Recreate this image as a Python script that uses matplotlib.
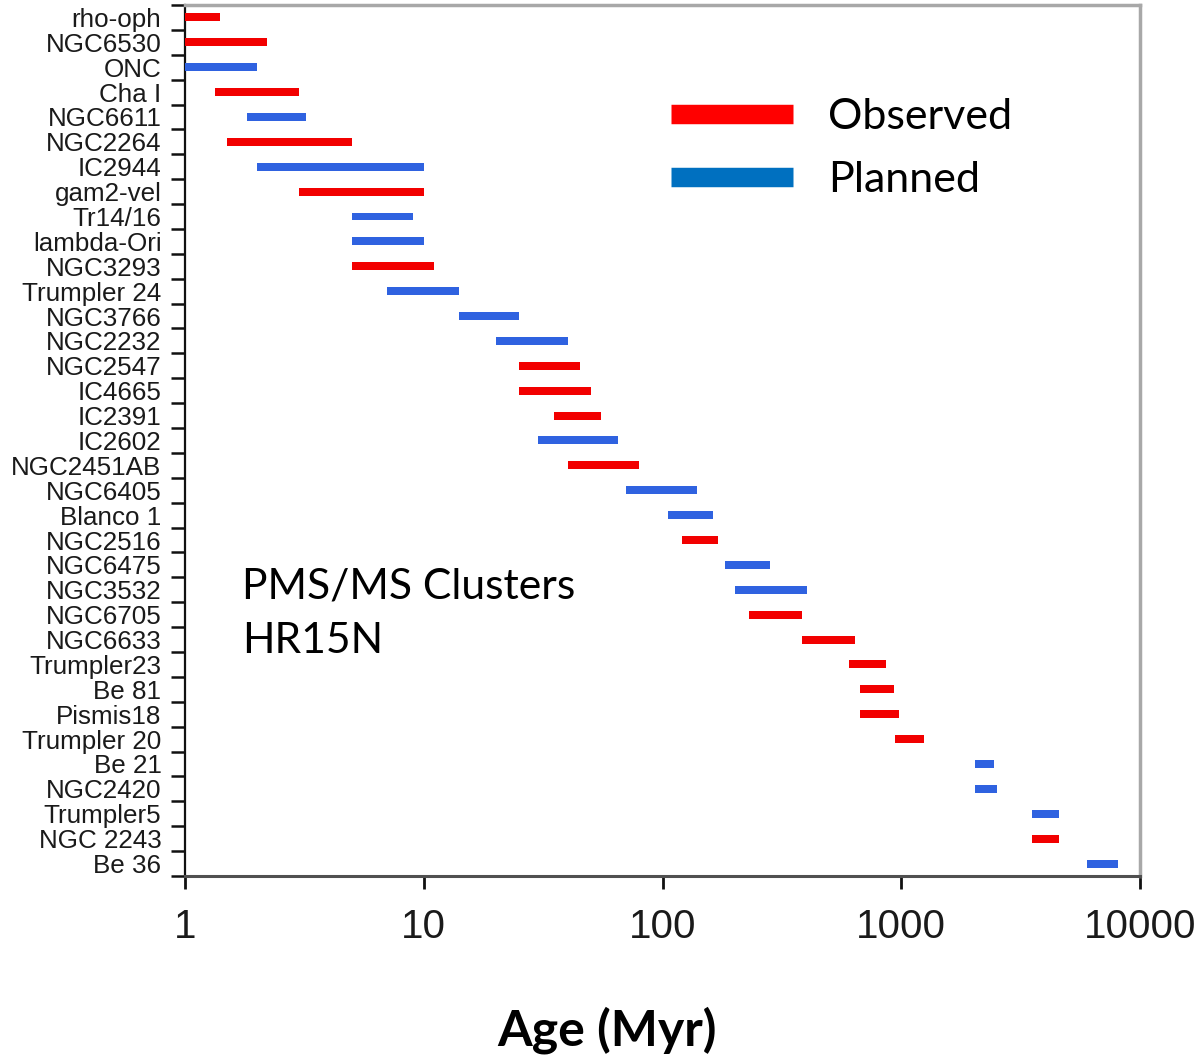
import matplotlib
matplotlib.use("Agg")
import matplotlib.pyplot as plt
from matplotlib.lines import Line2D

clusters = ["rho-oph", "NGC6530", "ONC", "Cha I", "NGC6611", "NGC2264", "IC2944",
            "gam2-vel", "Tr14/16", "lambda-Ori", "NGC3293", "Trumpler 24", "NGC3766",
            "NGC2232", "NGC2547", "IC4665", "IC2391", "IC2602", "NGC2451AB", "NGC6405",
            "Blanco 1", "NGC2516", "NGC6475", "NGC3532", "NGC6705", "NGC6633",
            "Trumpler23", "Be 81", "Pismis18", "Trumpler 20", "Be 21", "NGC2420",
            "Trumpler5", "NGC 2243", "Be 36"]
age_min = [1.0, 1.0, 1.0, 1.34, 1.82, 1.5, 2.0, 3.0, 5.0, 5.0, 5.0, 7.0, 14.0,
           20.0, 25.0, 25.0, 35.0, 30.0, 40.0, 70.0, 105.0, 121.0, 182.0, 202.0,
           231.0, 385.0, 606.0, 674.0, 674.0, 944.0, 2040.0, 2040.0, 3530.0, 3530.0, 6000.0]
age_max = [1.40, 2.2, 2.0, 3.0, 3.2, 5.0, 10.0, 10.0, 9.0, 10.0, 11.0, 14.0, 25.0,
           40.0, 45.0, 50.0, 55.0, 65.0, 80.0, 140.0, 163.0, 171.0, 283.0, 404.0,
           385.0, 642.0, 865.0, 935.0, 982.0, 1248.0, 2450.0, 2520.0, 4580.0, 4580.0, 8090.0]
status = ["Observed", "Observed", "Planned", "Observed", "Planned", "Observed", "Planned",
          "Observed", "Planned", "Planned", "Observed", "Planned", "Planned",
          "Planned", "Observed", "Observed", "Observed", "Planned", "Observed", "Planned",
          "Planned", "Observed", "Planned", "Planned", "Observed", "Observed",
          "Observed", "Observed", "Observed", "Observed", "Planned", "Planned",
          "Planned", "Observed", "Planned"]
xticks = [1, 10, 100, 1000, 10000]
xticklabels = ["1", "10", "100", "1000", "10000"]

bar_colors = {"Observed": "#F20000", "Planned": "#2F62E0"}
legend_colors = {"Observed": "#FF0000", "Planned": "#0070C0"}

fig = plt.figure(figsize=(12, 10.55), dpi=100)
ax = fig.add_axes([0.1542, 0.1697, 0.7958, 0.8256])

ypos = list(range(len(clusters)))
widths = [b - a for a, b in zip(age_min, age_max)]
ax.barh(ypos, widths, left=age_min, height=0.32,
        color=[bar_colors[s] for s in status], edgecolor="none", zorder=3)

ax.set_xscale("log")
ax.set_xlim(1, 10000)
ax.set_ylim(len(clusters) - 0.5, -0.5)
ax.set_xticks(xticks)
ax.set_xticklabels(xticklabels, fontsize=29, family="Liberation Sans", color="#1a1a1a")
ax.xaxis.set_minor_locator(matplotlib.ticker.NullLocator())
ax.tick_params(axis="x", direction="out", length=9, width=2, pad=14, color="#111111")

ax.set_yticks(ypos)
ax.set_yticklabels(clusters, fontsize=18.7, family="Liberation Sans", color="#1a1a1a")
ax.set_yticks([y + 0.5 for y in range(-1, len(clusters))], minor=True)
ax.tick_params(axis="y", which="major", length=0, pad=17)
ax.tick_params(axis="y", which="minor", direction="out", length=10, width=1.8, color="#111111")

for side in ("top", "right"):
    ax.spines[side].set_color("#A8A8A8")
    ax.spines[side].set_linewidth(2.5)
ax.spines["left"].set_color("#111111")
ax.spines["left"].set_linewidth(1.6)
ax.spines["bottom"].set_color("#505050")
ax.spines["bottom"].set_linewidth(2.2)

ax.set_xlabel("Age (Myr)", fontsize=36, family="Lato", fontweight="bold", va="center")
ax.xaxis.set_label_coords(0.442, -0.177)

ax.text(0.06, 0.301, "PMS/MS Clusters\nHR15N", transform=ax.transAxes,
        fontsize=30.7, family="Lato", va="center", ha="left", linespacing=1.55)

handles = [Line2D([0], [0], color=legend_colors[k], lw=14, solid_capstyle="butt")
           for k in ("Observed", "Planned")]
leg = ax.legend(handles, ["Observed", "Planned"], loc="upper left",
                bbox_to_anchor=(0.468, 0.938), frameon=False,
                prop={"family": "Lato", "size": 31}, handlelength=2.85,
                handletextpad=0.8, labelspacing=0.58)

fig.savefig("out.png", dpi=100)
